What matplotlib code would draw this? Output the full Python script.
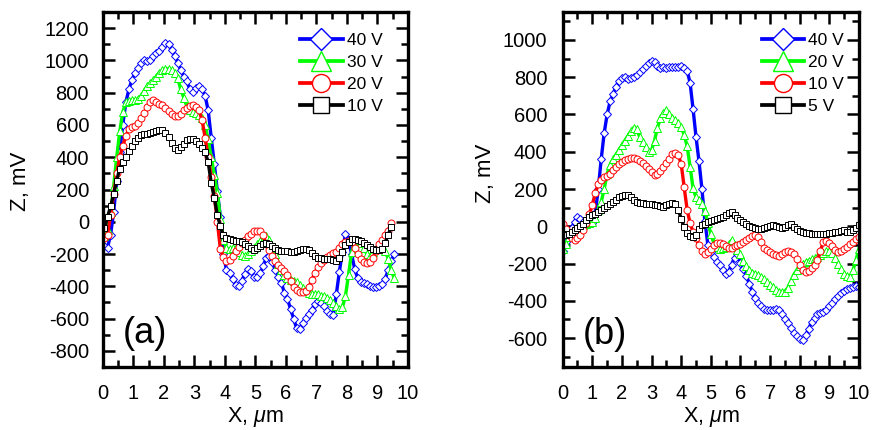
import matplotlib
matplotlib.use('Agg')
import matplotlib.pyplot as plt
from matplotlib.lines import Line2D
from matplotlib.ticker import MultipleLocator
import numpy as np

plt.rcParams['font.family'] = ['Liberation Sans', 'DejaVu Sans']
plt.rcParams['mathtext.fontset'] = 'custom'
plt.rcParams['mathtext.rm'] = 'Liberation Sans'
plt.rcParams['mathtext.it'] = 'Liberation Sans:italic'
plt.rcParams['axes.unicode_minus'] = False

# ---- panel (a): Z profiles, x step 0.1 um ----
x_a = np.round(0.05 + 0.1 * np.arange(96), 2)
labels_a = ['40 V', '30 V', '20 V', '10 V']

z_a_40 = [-150, -160, -80, 60, 250, 430, 600, 740, 820, 880,
          920, 955, 985, 1005, 995, 1000, 1025, 1045, 1060, 1085,
          1105, 1100, 1065, 1030, 985, 940, 900, 870, 820, 805,
          830, 840, 820, 780, 690, 520, 360, 190, 30, -200,
          -300, -320, -355, -390, -400, -365, -325, -290, -305, -340,
          -340, -320, -275, -225, -215, -250, -300, -340, -380, -440,
          -480, -540, -600, -660, -665, -625, -595, -570, -545, -510,
          -490, -505, -525, -550, -570, -580, -450, -310, -185, -75,
          -110, -200, -290, -350, -372, -380, -385, -395, -402, -402,
          -400, -385, -355, -300, -240, -200]
z_a_30 = [-90, -50, 60, 220, 400, 560, 680, 740, 750, 755,
          755, 760, 780, 810, 840, 860, 880, 900, 925, 940,
          948, 948, 940, 920, 890, 820, 770, 715, 695, 683,
          675, 660, 640, 600, 510, 400, 290, 180, 20, -110,
          -165, -170, -165, -160, -190, -205, -210, -200, -180, -160,
          -140, -120, -110, -90, -110, -150, -200, -260, -300, -330,
          -350, -360, -370, -375, -390, -410, -425, -440, -447, -447,
          -450, -457, -462, -470, -485, -505, -525, -540, -530, -460,
          -330, -190, -120, -110, -130, -160, -200, -210, -190, -170,
          -150, -150, -180, -230, -300, -350]
z_a_20 = [-100, -80, 40, 170, 300, 400, 470, 530, 575, 590,
          595, 610, 640, 675, 710, 740, 752, 745, 732, 722,
          705, 685, 668, 658, 657, 668, 690, 708, 720, 722,
          712, 690, 630, 520, 400, 280, 160, 0, -170, -220,
          -240, -235, -210, -180, -155, -130, -110, -90, -75, -60,
          -55, -60, -85, -135, -175, -210, -240, -265, -285, -305,
          -330, -370, -405, -425, -435, -437, -430, -405, -360, -315,
          -280, -255, -235, -220, -205, -195, -185, -165, -140, -125,
          -120, -125, -160, -200, -230, -250, -255, -250, -225, -180,
          -140, -110, -85, -55, -5]
z_a_10 = [-40, 30, 95, 170, 255, 330, 372, 400, 440, 472,
          500, 518, 535, 541, 547, 553, 557, 563, 570, 568,
          552, 525, 490, 455, 447, 462, 485, 505, 516, 513,
          500, 482, 460, 430, 370, 240, 150, 40, -25, -85,
          -103, -107, -112, -118, -122, -128, -135, -148, -162, -172,
          -165, -152, -140, -130, -135, -150, -165, -175, -180, -182,
          -184, -185, -185, -184, -178, -170, -168, -175, -192, -215,
          -223, -226, -228, -230, -233, -237, -242, -225, -185, -145,
          -125, -105, -108, -115, -122, -132, -145, -158, -170, -178,
          -178, -170, -130, -80, -35]

# ---- panel (b) ----
x_b = np.round(0.1 * np.arange(101), 1)
labels_b = ['40 V', '20 V', '10 V', '5 V']

z_b_40 = [-130, -85, -45, -10, 25, 50, 40, 25, 15, 10,
          20, 70, 200, 360, 500, 600, 670, 710, 750, 780,
          795, 800, 790, 795, 800, 810, 828, 845, 862, 878,
          885, 880, 862, 848, 855, 850, 855, 855, 857, 855,
          858, 850, 835, 770, 630, 480, 350, 200, 30, -100,
          -140, -165, -190, -210, -235, -255, -245, -205, -170, -150,
          -195, -230, -265, -310, -350, -385, -412, -430, -442, -448,
          -450, -447, -442, -450, -472, -495, -518, -545, -570, -590,
          -603, -611, -585, -550, -515, -490, -470, -465, -462, -450,
          -430, -410, -390, -375, -360, -345, -338, -330, -325, -322, -325]
z_b_20 = [-120, -95, -60, -30, -15, -5, 0, 5, 12, 16,
          22, 45, 90, 130, 200, 280, 330, 360, 385, 410,
          435, 460, 485, 510, 530, 520, 480, 450, 425, 400,
          410, 460, 530, 580, 610, 625, 600, 582, 568, 553,
          535, 490, 430, 320, 205, 155, 140, 120, 80, 20,
          -40, -90, -110, -120, -118, -110, -95, -75, -100, -125,
          -150, -185, -215, -235, -248, -256, -262, -272, -285, -300,
          -315, -328, -340, -350, -355, -350, -330, -295, -260, -235,
          -215, -200, -192, -185, -178, -172, -165, -155, -145, -135,
          -130, -145, -170, -200, -230, -255, -268, -272, -235, -180, -120]
z_b_10 = [10, -15, -45, -65, -72, -62, -45, -20, 20, 65,
          115, 178, 225, 250, 262, 270, 280, 300, 318, 332,
          345, 355, 362, 366, 366, 362, 352, 340, 322, 308,
          290, 276, 278, 296, 320, 342, 362, 386, 392, 382,
          335, 210, 90, 16, -30, -65, -100, -130, -150, -140,
          -120, -100, -92, -90, -95, -108, -115, -115, -108, -100,
          -95, -85, -75, -62, -52, -45, -55, -85, -115, -128,
          -137, -147, -155, -157, -150, -140, -135, -137, -148, -175,
          -210, -235, -245, -240, -225, -205, -180, -130, -85, -80,
          -90, -108, -125, -137, -130, -120, -110, -95, -82, -68, -55]
z_b_5 = [-40, -45, -42, -30, -18, -8, 0, 15, 32, 50,
         60, 67, 78, 90, 100, 108, 122, 131, 140, 155,
         164, 170, 168, 155, 140, 132, 127, 123, 122, 120,
         120, 117, 113, 108, 106, 112, 119, 123, 118, 90,
         40, -5, -35, -50, -58, -45, -15, 5, 15, 22,
         28, 32, 38, 42, 52, 62, 70, 76, 62, 45,
         33, 24, 12, 4, -2, -8, -12, -12, -10, -5,
         0, 5, 2, -5, -10, -3, 8, 14, -3, -15,
         -24, -30, -34, -38, -40, -40, -40, -40, -40, -40,
         -38, -36, -33, -30, -24, -21, -28, -28, -22, -10, 8]

# styles shared by both panels (blue, green, red, black)
colors = ['#0000ff', '#00ff00', '#ff0000', '#000000']
markers = ['D', '^', 'o', 's']
msize = [4.5, 5.4, 5.0, 4.8]
leg_msize = [11, 14.5, 13, 11]


def draw_panel(ax, x, series, labels, ylim, ymajor, legx):
    for z, c, m, ms in zip(series, colors, markers, msize):
        ax.plot(x[:len(z)], z, color=c, lw=2.4, marker=m, ms=ms,
                mfc='white', mec=c, mew=0.7)
    ax.set_xlim(0, 10)
    ax.set_ylim(*ylim)
    ax.xaxis.set_major_locator(MultipleLocator(1))
    ax.xaxis.set_minor_locator(MultipleLocator(0.5))
    ax.yaxis.set_major_locator(MultipleLocator(ymajor))
    ax.yaxis.set_minor_locator(MultipleLocator(ymajor / 2))
    for s in ax.spines.values():
        s.set_linewidth(2.4)
    ax.tick_params(which='both', direction='in', top=True, right=True,
                   labelsize=14.5, width=1.8)
    ax.tick_params(which='major', length=8.5)
    ax.tick_params(which='minor', length=5)
    ax.tick_params(axis='x', pad=12.5)
    ax.tick_params(axis='y', pad=10)
    ax.set_xlabel(r'X, $\mu$m', fontsize=15.5)
    ax.set_ylabel('Z, mV', fontsize=16)
    ax.xaxis.set_label_coords(0.5, -0.108)

    handles = [Line2D([], [], color=c, lw=2.7, marker=m, ms=ms,
                      mfc='white', mec=c, mew=1.0)
               for c, m, ms in zip(colors, markers, leg_msize)]
    ax.legend(handles, labels, loc='upper left', bbox_to_anchor=(legx, 0.942),
              frameon=False, fontsize=12.5, handlelength=2.45, handletextpad=0.23,
              labelspacing=0.4, borderpad=0, borderaxespad=0)


fig = plt.figure(figsize=(8.74, 4.30), dpi=100)
ax_a = fig.add_axes([0.1178, 0.1465, 0.349, 0.8256])
ax_b = fig.add_axes([0.6438, 0.1465, 0.339, 0.8256])

draw_panel(ax_a, x_a, [z_a_40, z_a_30, z_a_20, z_a_10], labels_a,
           (-900, 1300), 200, 0.646)
ax_a.yaxis.set_label_coords(-0.236, 0.524)
ax_a.text(0.066, 0.068, '(a)', transform=ax_a.transAxes, fontsize=26,
          va='baseline', ha='left')

draw_panel(ax_b, x_b, [z_b_40, z_b_20, z_b_10, z_b_5], labels_b,
           (-755, 1150), 200, 0.672)
ax_b.yaxis.set_label_coords(-0.225, 0.546)
ax_b.tick_params(axis='y', pad=11)
ax_b.text(0.069, 0.065, '(b)', transform=ax_b.transAxes, fontsize=26,
          va='baseline', ha='left')

fig.savefig('out.png', dpi=100)
